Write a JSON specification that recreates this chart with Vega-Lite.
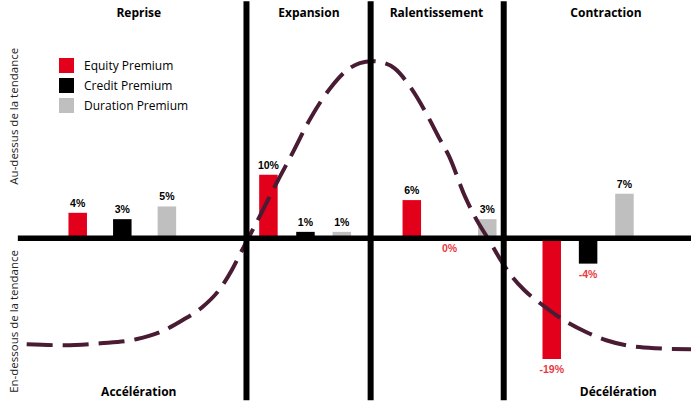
{
  "$schema": "https://vega.github.io/schema/vega-lite/v6.json",
  "width": 696,
  "height": 411,
  "padding": 0,
  "autosize": {"type": "none"},
  "background": "white",
  "config": {"view": {"stroke": null}, "locale": {"number": {"decimal": ".", "thousands": ",", "grouping": [3], "currency": ["", ""], "minus": "-"}}},
  "datasets": {
    "bars": [
      {"phase": "Reprise", "premium": "Equity Premium", "t": 10.6, "value": 0.04},
      {"phase": "Reprise", "premium": "Credit Premium", "t": 17.1, "value": 0.03},
      {"phase": "Reprise", "premium": "Duration Premium", "t": 23.6, "value": 0.05},
      {"phase": "Expansion", "premium": "Equity Premium", "t": 38.4, "value": 0.10},
      {"phase": "Expansion", "premium": "Credit Premium", "t": 43.8, "value": 0.01},
      {"phase": "Expansion", "premium": "Duration Premium", "t": 49.1, "value": 0.01},
      {"phase": "Ralentissement", "premium": "Equity Premium", "t": 59.3, "value": 0.06},
      {"phase": "Ralentissement", "premium": "Credit Premium", "t": 64.8, "value": 0.0},
      {"phase": "Ralentissement", "premium": "Duration Premium", "t": 70.3, "value": 0.03},
      {"phase": "Contraction", "premium": "Equity Premium", "t": 79.7, "value": -0.19},
      {"phase": "Contraction", "premium": "Credit Premium", "t": 85.0, "value": -0.04},
      {"phase": "Contraction", "premium": "Duration Premium", "t": 90.3, "value": 0.07}
    ],
    "curve": [
      {"t": 3.16, "y": -0.1669}, {"t": 8.62, "y": -0.1685}, {"t": 13.94, "y": -0.1654},
      {"t": 19.11, "y": -0.1591}, {"t": 22.56, "y": -0.1480}, {"t": 25.86, "y": -0.1291},
      {"t": 28.74, "y": -0.1087}, {"t": 31.18, "y": -0.0819}, {"t": 33.05, "y": -0.0504},
      {"t": 34.48, "y": -0.0205}, {"t": 35.92, "y": 0.0094}, {"t": 37.36, "y": 0.0394},
      {"t": 39.80, "y": 0.0913}, {"t": 41.67, "y": 0.1291}, {"t": 44.54, "y": 0.1890},
      {"t": 47.41, "y": 0.2362}, {"t": 49.86, "y": 0.2646}, {"t": 51.72, "y": 0.2756},
      {"t": 53.45, "y": 0.2787}, {"t": 55.32, "y": 0.2756}, {"t": 56.75, "y": 0.2677},
      {"t": 59.20, "y": 0.2362}, {"t": 61.78, "y": 0.1890}, {"t": 63.22, "y": 0.1591},
      {"t": 64.66, "y": 0.1307}, {"t": 67.10, "y": 0.0646}, {"t": 68.53, "y": 0.0331},
      {"t": 70.83, "y": -0.0079}, {"t": 72.27, "y": -0.0346}, {"t": 73.99, "y": -0.0614},
      {"t": 75.72, "y": -0.0819}, {"t": 78.02, "y": -0.1024}, {"t": 81.47, "y": -0.1291},
      {"t": 84.77, "y": -0.1480}, {"t": 87.64, "y": -0.1606}, {"t": 90.52, "y": -0.1685},
      {"t": 94.83, "y": -0.1732}, {"t": 100.0, "y": -0.1748}
    ],
    "vlines": [
      {"t": 35.2, "top": 0.373, "bottom": -0.255},
      {"t": 53.3, "top": 0.373, "bottom": -0.255},
      {"t": 72.7, "top": 0.373, "bottom": -0.255}
    ],
    "hline": [{"t1": 1.87, "t2": 100, "y": 0}],
    "titles": [
      {"t": 19.5, "y": 0.3543, "label": "Reprise"},
      {"t": 44.3, "y": 0.3543, "label": "Expansion"},
      {"t": 62.9, "y": 0.3543, "label": "Ralentissement"},
      {"t": 87.6, "y": 0.3543, "label": "Contraction"},
      {"t": 19.5, "y": -0.2425, "label": "Accélération"},
      {"t": 89.4, "y": -0.2425, "label": "Décélération"}
    ],
    "sides": [
      {"t": 1.44, "y": 0.192, "label": "Au-dessus de la tendance"},
      {"t": 1.44, "y": -0.131, "label": "En-dessous de la tendance"}
    ]
  },
  "layer": [
    {
      "data": {"name": "bars"},
      "mark": {"type": "bar", "width": 18.5},
      "encoding": {
        "x": {"field": "t", "type": "quantitative", "scale": {"domain": [0, 100], "nice": false, "zero": false}, "axis": null},
        "y": {"field": "value", "type": "quantitative", "scale": {"domain": [-0.272, 0.375], "nice": false}, "axis": null},
        "y2": {"datum": 0},
        "color": {
          "field": "premium", "type": "nominal",
          "scale": {"domain": ["Equity Premium", "Credit Premium", "Duration Premium"], "range": ["#e2001a", "#000000", "#bfbfbf"]},
          "legend": {
            "orient": "none", "legendX": 59, "legendY": 58, "title": null,
            "symbolType": "square", "symbolSize": 225, "symbolStrokeWidth": 0, "symbolOpacity": 1,
            "labelFont": "Open Sans", "labelFontSize": 12, "labelColor": "#000000",
            "labelOffset": 10, "rowPadding": 5, "padding": 0
          }
        }
      }
    },
    {
      "data": {"name": "curve"},
      "mark": {"type": "line", "color": "#4a1c34", "strokeWidth": 4, "strokeDash": [26, 10], "strokeCap": "butt", "interpolate": "monotone"},
      "encoding": {
        "x": {"field": "t", "type": "quantitative", "scale": {"domain": [0, 100], "nice": false, "zero": false}, "axis": null},
        "y": {"field": "y", "type": "quantitative", "scale": {"domain": [-0.272, 0.375], "nice": false}, "axis": null}
      }
    },
    {
      "data": {"name": "vlines"},
      "mark": {"type": "rule", "color": "#000000", "strokeWidth": 6},
      "encoding": {
        "x": {"field": "t", "type": "quantitative", "scale": {"domain": [0, 100], "nice": false, "zero": false}, "axis": null},
        "y": {"field": "top", "type": "quantitative", "scale": {"domain": [-0.272, 0.375], "nice": false}, "axis": null},
        "y2": {"field": "bottom"}
      }
    },
    {
      "data": {"name": "hline"},
      "mark": {"type": "rule", "color": "#000000", "strokeWidth": 5.5},
      "encoding": {
        "x": {"field": "t1", "type": "quantitative", "scale": {"domain": [0, 100], "nice": false, "zero": false}, "axis": null},
        "x2": {"field": "t2"},
        "y": {"field": "y", "type": "quantitative", "scale": {"domain": [-0.272, 0.375], "nice": false}, "axis": null}
      }
    },
    {
      "data": {"name": "bars"},
      "transform": [{"filter": "datum.value > 0"}],
      "mark": {"type": "text", "baseline": "bottom", "dy": -4, "font": "Liberation Sans", "fontWeight": "bold", "fontSize": 10.5, "color": "#000000"},
      "encoding": {
        "x": {"field": "t", "type": "quantitative", "scale": {"domain": [0, 100], "nice": false, "zero": false}, "axis": null},
        "y": {"field": "value", "type": "quantitative", "scale": {"domain": [-0.272, 0.375], "nice": false}, "axis": null},
        "text": {"field": "value", "type": "quantitative", "format": ".0%"}
      }
    },
    {
      "data": {"name": "bars"},
      "transform": [{"filter": "datum.value <= 0"}],
      "mark": {"type": "text", "baseline": "top", "dy": 6, "font": "Liberation Sans", "fontWeight": "bold", "fontSize": 10.5, "color": "#e8393f"},
      "encoding": {
        "x": {"field": "t", "type": "quantitative", "scale": {"domain": [0, 100], "nice": false, "zero": false}, "axis": null},
        "y": {"field": "value", "type": "quantitative", "scale": {"domain": [-0.272, 0.375], "nice": false}, "axis": null},
        "text": {"field": "value", "type": "quantitative", "format": ".0%"}
      }
    },
    {
      "data": {"name": "titles"},
      "mark": {"type": "text", "baseline": "middle", "align": "center", "font": "Open Sans", "fontWeight": "bold", "fontSize": 12, "color": "#000000"},
      "encoding": {
        "x": {"field": "t", "type": "quantitative", "scale": {"domain": [0, 100], "nice": false, "zero": false}, "axis": null},
        "y": {"field": "y", "type": "quantitative", "scale": {"domain": [-0.272, 0.375], "nice": false}, "axis": null},
        "text": {"field": "label"}
      }
    },
    {
      "data": {"name": "sides"},
      "mark": {"type": "text", "baseline": "middle", "align": "center", "angle": 270, "font": "Open Sans", "fontSize": 11.5, "color": "#222222"},
      "encoding": {
        "x": {"field": "t", "type": "quantitative", "scale": {"domain": [0, 100], "nice": false, "zero": false}, "axis": null},
        "y": {"field": "y", "type": "quantitative", "scale": {"domain": [-0.272, 0.375], "nice": false}, "axis": null},
        "text": {"field": "label"}
      }
    }
  ]
}
